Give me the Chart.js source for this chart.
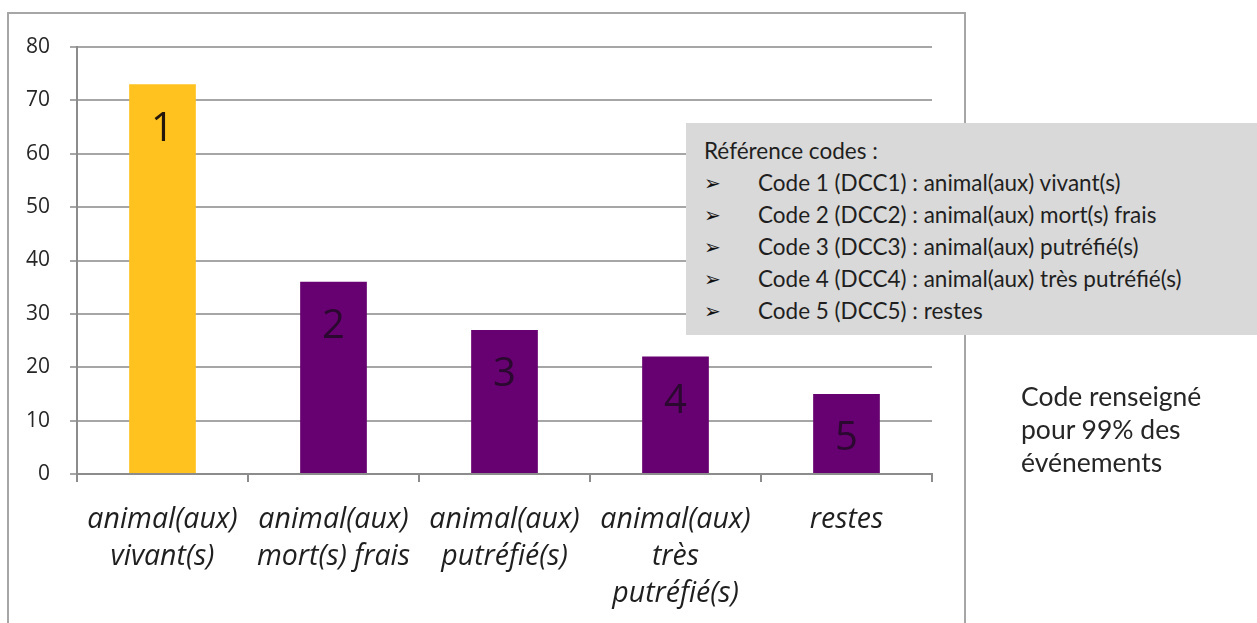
<!DOCTYPE html>
<html>
<head>
<meta charset="utf-8">
<script src="https://cdn.jsdelivr.net/npm/chart.js@4"></script>
<style>
  html, body { margin: 0; padding: 0; background: #fff; }
  body { width: 1257px; height: 623px; position: relative; overflow: hidden; }
  #frame {
    position: absolute; left: 7px; top: 12px; width: 959px; height: 700px;
    border: 2px solid #a6a6a6; box-sizing: border-box;
  }
  #wrap { position: absolute; left: 0; top: 0; width: 1257px; height: 623px; }
  #refbox {
    position: absolute; left: 686px; top: 123px; width: 571px; height: 212px;
    background: #d9d9d9; font-family: Lato, "Open Sans", sans-serif; font-size: 22.5px;
    color: #1f1f1f; box-sizing: border-box; padding: 12px 0 0 18px; line-height: 32px;
  }
  #refbox .row { position: relative; padding-left: 54px; white-space: nowrap; }
  #refbox .row .arrow { position: absolute; left: 0; top: 0; font-family: "DejaVu Sans"; font-size: 20px; color: #111; }
  #note {
    position: absolute; left: 1021px; top: 380px; font-family: Lato, "Open Sans", sans-serif;
    font-size: 26.5px; line-height: 33px; color: #262626;
  }
</style>
</head>
<body>
<div id="frame"></div>
<div id="wrap"><canvas id="chart" width="1257" height="623"></canvas></div>
<div id="refbox">
  <div>Référence codes :</div>
</div>
<div id="note">Code renseigné<br>pour 99% des<br>événements</div>
<script>
// chart data
const categories = [
  ['animal(aux)', 'vivant(s)'],
  ['animal(aux)', 'mort(s) frais'],
  ['animal(aux)', 'putréfié(s)'],
  ['animal(aux)', 'très', 'putréfié(s)'],
  ['restes']
];
const values = [73, 36, 27, 22, 15];
const codes = ['1', '2', '3', '4', '5'];
const barColors = ['#ffc21f', '#670070', '#670070', '#670070', '#670070'];
const codeColors = ['#24160a', '#2a0830', '#2a0830', '#2a0830', '#2a0830'];
const yTicks = [0, 10, 20, 30, 40, 50, 60, 70, 80];
const refLines = [
  'Code 1 (DCC1) : animal(aux) vivant(s)',
  'Code 2 (DCC2) : animal(aux) mort(s) frais',
  'Code 3 (DCC3) : animal(aux) putréfié(s)',
  'Code 4 (DCC4) : animal(aux) très putréfié(s)',
  'Code 5 (DCC5) : restes'
];

// reference box rows
const refBox = document.getElementById('refbox');
refLines.forEach(line => {
  const row = document.createElement('div');
  row.className = 'row';
  row.innerHTML = '<span class="arrow">\u27A2</span>';
  row.appendChild(document.createTextNode(line));
  refBox.appendChild(row);
});

// draw code number inside each bar
const codeLabels = {
  id: 'codeLabels',
  afterDatasetsDraw(chart) {
    const ctx = chart.ctx;
    const meta = chart.getDatasetMeta(0);
    ctx.save();
    ctx.font = '40px "Open Sans"';
    ctx.textAlign = 'center';
    ctx.textBaseline = 'middle';
    meta.data.forEach((bar, i) => {
      ctx.fillStyle = codeColors[i];
      ctx.fillText(codes[i], bar.x, bar.y + 45);
    });
    ctx.restore();
  }
};

new Chart(document.getElementById('chart'), {
  type: 'bar',
  data: {
    labels: categories,
    datasets: [{
      data: values,
      backgroundColor: barColors,
      borderWidth: 0,
      barPercentage: 0.39,
      categoryPercentage: 1
    }]
  },
  options: {
    responsive: false,
    animation: false,
    layout: { padding: { left: 0, right: 325, top: 47, bottom: 0 } },
    plugins: {
      legend: { display: false },
      tooltip: { enabled: false }
    },
    scales: {
      x: {
        afterFit: scale => { scale.height = 149; },
        grid: { drawOnChartArea: false, tickLength: 8, color: '#8c8c8c', lineWidth: 2, offset: true },
        border: { color: '#8c8c8c', width: 2 },
        ticks: {
          color: '#1f1f1f',
          padding: 19,
          maxRotation: 0,
          autoSkip: false,
          font: { family: '"Open Sans"', style: 'italic', size: 28.5, lineHeight: 1.3 }
        }
      },
      y: {
        min: 0,
        max: 80,
        afterFit: scale => { scale.width = 77; },
        afterBuildTicks: scale => { scale.ticks = yTicks.map(v => ({ value: v })); },
        grid: { color: '#a6a6a6', lineWidth: 2, tickLength: 7 },
        border: { color: '#8c8c8c', width: 2 },
        ticks: {
          color: '#262626',
          padding: 20,
          font: { family: '"Open Sans"', size: 21 }
        }
      }
    }
  },
  plugins: [codeLabels]
});
</script>
</body>
</html>
